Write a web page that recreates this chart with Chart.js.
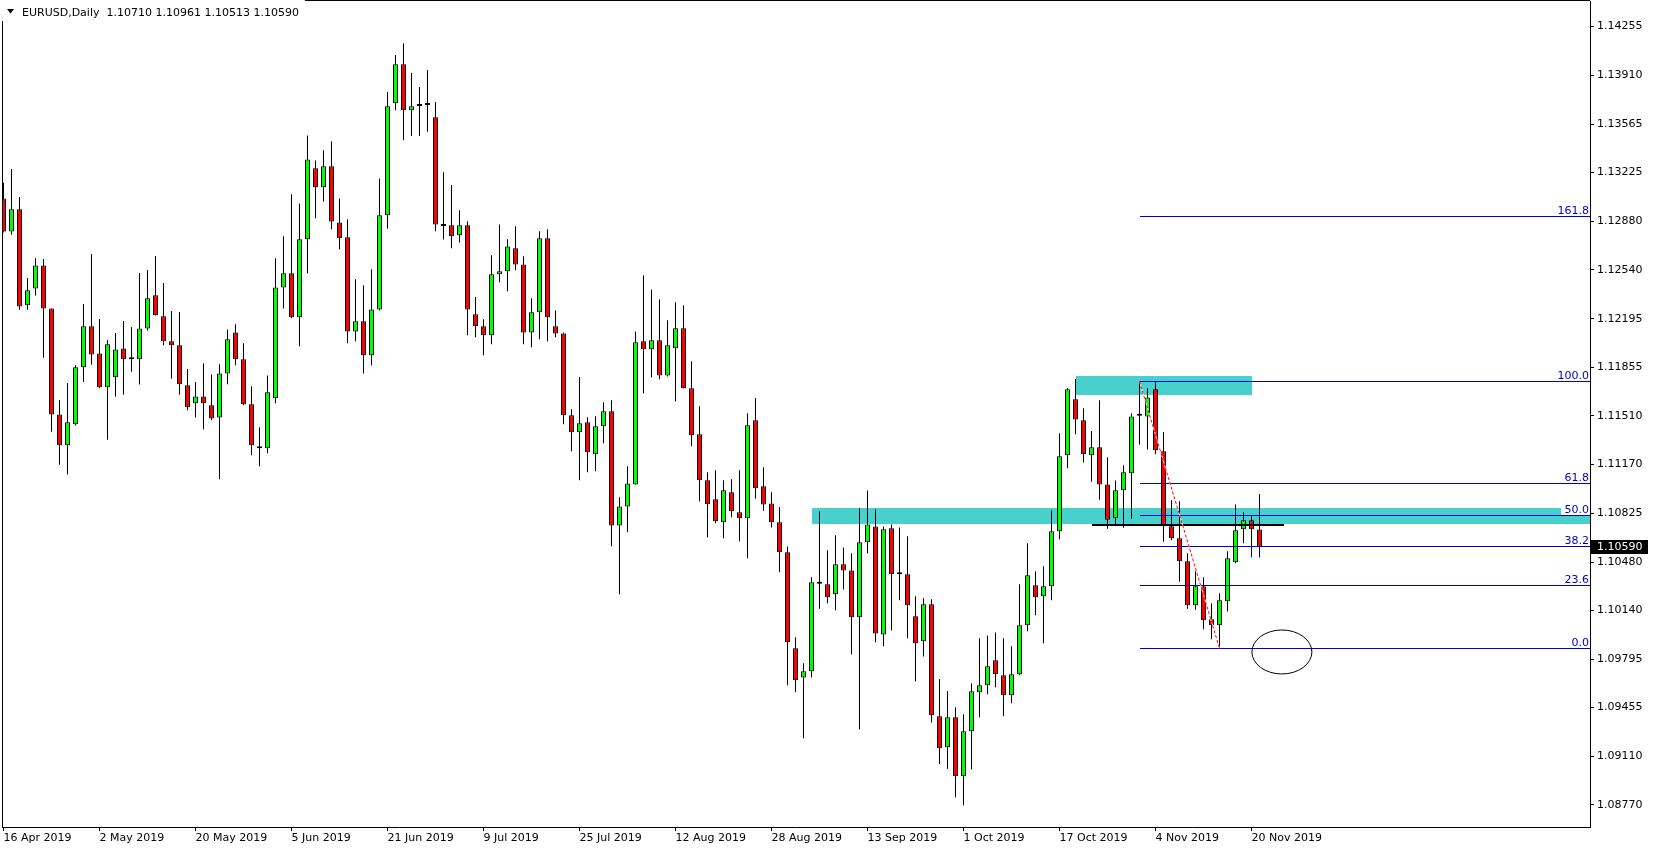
<!DOCTYPE html>
<html>
<head>
<meta charset="utf-8">
<title>EURUSD Daily</title>
<script src="https://cdn.jsdelivr.net/npm/chart.js@4.4.0/dist/chart.umd.min.js"></script>
<style>
html, body { margin: 0; padding: 0; background: #fff; }
#wrap { width: 1654px; height: 850px; }
</style>
</head>
<body>
<div id="wrap"><canvas id="mt4-chart" width="1654" height="850"></canvas></div>
<script>
// EURUSD daily candles, 16 Apr 2019 .. 21 Nov 2019 (one bar per trading day)
const opens = [
    1.13043,1.12809,1.12966,1.12290,1.12409,1.12571,1.12268,1.11521,1.11303,1.11451,
    1.11853,1.12142,1.11951,1.11712,1.11782,1.11986,1.11909,1.11909,1.12127,1.12360,
    1.12212,1.12036,1.12008,1.11726,1.11599,1.11648,1.11585,1.11500,1.11810,1.12099,
    1.11909,1.11592,1.11296,1.11282,1.11634,1.12416,1.12515,1.12205,1.12755,1.13255,
    1.13121,1.13269,1.12874,1.12769,1.12106,1.12177,1.11937,1.12261,1.12924,1.13713,
    1.13988,1.13664,1.13694,1.13701,1.13614,1.12849,1.12853,1.12783,1.12853,1.12226,
    1.12142,1.12078,1.12508,1.12529,1.12691,1.12578,1.12099,1.12240,1.12762,1.12142,
    1.12092,1.11515,1.11395,1.11465,1.11240,1.11437,1.11543,1.10739,1.10873,1.11028,
    1.12036,1.11980,1.12043,1.11796,1.11987,1.12128,1.11705,1.11381,1.11057,1.10923,
    1.10761,1.10972,1.10831,1.10789,1.11479,1.11014,1.10894,1.10761,1.10549,1.09873,
    1.09668,1.09711,1.10328,1.10324,1.10253,1.10465,1.10422,1.10091,1.10620,1.10732,
    1.09971,1.10718,1.10394,1.10394,1.10098,1.09922,1.10183,1.09394,1.09175,1.09387,
    1.08971,1.09288,1.09563,1.09612,1.09788,1.09683,1.09542,1.09690,1.10035,1.10317,
    1.10239,1.10310,1.10697,1.11233,1.11627,1.11479,1.11233,1.11289,1.11028,1.10789,
    1.10986,1.11106,1.11512,1.11507,1.11698,1.11261,1.10733,1.10648,1.10486,1.10176,
    1.10310,1.10077,1.10035,1.10204,1.10479,1.10711,1.10775,1.10710
];
const highs = [
    1.13154,1.13250,1.13053,1.12482,1.12623,1.12616,1.12268,1.11622,1.11742,1.11867,
    1.12299,1.12651,1.12193,1.12045,1.12095,1.12179,1.12137,1.12517,1.12539,1.12637,
    1.12447,1.12250,1.12243,1.11841,1.11749,1.11881,1.11803,1.11874,1.12120,1.12156,
    1.12022,1.11719,1.11430,1.11796,1.12621,1.12776,1.13072,1.13008,1.13487,1.13311,
    1.13382,1.13445,1.13043,1.12896,1.12473,1.12431,1.12543,1.13184,1.13793,1.14053,
    1.14136,1.13927,1.13828,1.13948,1.13722,1.13227,1.13137,1.12959,1.12882,1.12348,
    1.12191,1.12642,1.12860,1.12755,1.12846,1.12635,1.12339,1.12811,1.12825,1.12254,
    1.12099,1.11557,1.11785,1.11501,1.11508,1.11606,1.11620,1.10937,1.11155,1.12106,
    1.12501,1.12402,1.12332,1.12184,1.12311,1.12290,1.11895,1.11578,1.11113,1.11127,
    1.11057,1.11064,1.11127,1.11529,1.11637,1.11148,1.10972,1.10869,1.10591,1.09950,
    1.09767,1.10373,1.10838,1.10563,1.10669,1.10584,1.10542,1.10859,1.10985,1.10852,
    1.10732,1.10746,1.10725,1.10662,1.10239,1.10225,1.10218,1.09657,1.09572,1.09457,
    1.09408,1.09626,1.09943,1.09964,1.09985,1.09943,1.09887,1.10324,1.10613,1.10415,
    1.10451,1.10845,1.11388,1.11705,1.11770,1.11564,1.11404,1.11620,1.11219,1.11056,
    1.11162,1.11529,1.11754,1.11705,1.11752,1.11397,1.10916,1.10909,1.10542,1.10415,
    1.10373,1.10190,1.10260,1.10556,1.10887,1.10831,1.10803,1.10961
];
const lows = [
    1.12802,1.12787,1.12259,1.12259,1.12358,1.11921,1.11399,1.11167,1.11097,1.11442,
    1.11749,1.11871,1.11705,1.11343,1.11646,1.11660,1.11822,1.11731,1.12113,1.12219,
    1.12008,1.11773,1.11660,1.11550,1.11500,1.11416,1.11479,1.11064,1.11733,1.11867,
    1.11585,1.11233,1.11155,1.11247,1.11599,1.12268,1.12198,1.12001,1.12515,1.12903,
    1.13022,1.12825,1.12684,1.12022,1.12036,1.11810,1.11867,1.12254,1.12830,1.13664,
    1.13452,1.13483,1.13483,1.13513,1.12811,1.12754,1.12691,1.12733,1.12078,1.12064,
    1.11937,1.12015,1.12452,1.12388,1.12536,1.12015,1.11994,1.12050,1.12036,1.12064,
    1.11451,1.11261,1.11057,1.11113,1.11120,1.11317,1.10592,1.10253,1.10690,1.11028,
    1.11670,1.11782,1.11768,1.11789,1.11613,1.11705,1.11296,1.10909,1.10655,1.10754,
    1.10648,1.10796,1.10627,1.10507,1.10927,1.10843,1.10725,1.10408,1.09612,1.09563,
    1.09239,1.09668,1.10152,1.10190,1.10141,1.10288,1.09830,1.09302,1.10542,1.09915,
    1.09887,1.09999,1.10211,1.09943,1.09640,1.09816,1.09351,1.09058,1.09023,1.08823,
    1.08767,1.09020,1.09387,1.09549,1.09598,1.09394,1.09485,1.09683,1.09993,1.10105,
    1.09908,1.10211,1.10641,1.11141,1.11381,1.11183,1.11047,1.10920,1.10716,1.10744,
    1.10723,1.10786,1.11308,1.11273,1.11240,1.10624,1.10634,1.10342,1.10152,1.10145,
    1.10007,1.09936,1.09873,1.10133,1.10472,1.10613,1.10514,1.10513
];
const closes = [
    1.12809,1.12966,1.12282,1.12395,1.12571,1.12268,1.11521,1.11303,1.11465,1.11853,
    1.12142,1.11944,1.11712,1.12015,1.11979,1.11909,1.11909,1.12127,1.12339,1.12219,
    1.12036,1.12008,1.11733,1.11571,1.11648,1.11599,1.11493,1.11810,1.12050,1.11909,
    1.11592,1.11303,1.11282,1.11677,1.12416,1.12515,1.12205,1.12755,1.13318,1.13121,
    1.13269,1.12881,1.12762,1.12106,1.12177,1.11937,1.12261,1.12924,1.13692,1.13988,
    1.13664,1.13692,1.13694,1.13701,1.12860,1.12849,1.12776,1.12853,1.12261,1.12142,
    1.12078,1.12508,1.12529,1.12705,1.12578,1.12099,1.12240,1.12762,1.12205,1.12092,
    1.11515,1.11395,1.11458,1.11254,1.11437,1.11543,1.10739,1.10873,1.11035,1.12029,
    1.11980,1.12043,1.11796,1.12008,1.12128,1.11705,1.11374,1.11057,1.10888,1.10768,
    1.10986,1.10838,1.10789,1.11444,1.11000,1.10887,1.10761,1.10549,1.09915,1.09647,
    1.09711,1.10338,1.10328,1.10232,1.10465,1.10422,1.10091,1.10620,1.10746,1.09978,
    1.10711,1.10394,1.10394,1.10176,1.09908,1.10183,1.09401,1.09168,1.09387,1.08971,
    1.09288,1.09570,1.09612,1.09746,1.09690,1.09542,1.09690,1.10035,1.10387,1.10232,
    1.10310,1.10697,1.11226,1.11698,1.11486,1.11240,1.11289,1.11028,1.10779,1.10986,
    1.11113,1.11507,1.11512,1.11641,1.11268,1.10733,1.10648,1.10486,1.10176,1.10310,
    1.10070,1.10035,1.10211,1.10507,1.10704,1.10775,1.10711,1.10590
];

// time scale labels (bar index -> text)
const tickBars = [0, 12, 24, 36, 48, 60, 72, 84, 96, 108, 120, 132, 144, 156];
const tickLabels = ['16 Apr 2019', '2 May 2019', '20 May 2019', '5 Jun 2019', '21 Jun 2019',
    '9 Jul 2019', '25 Jul 2019', '12 Aug 2019', '28 Aug 2019', '13 Sep 2019',
    '1 Oct 2019', '17 Oct 2019', '4 Nov 2019', '20 Nov 2019'];

// price scale labels
const priceTicks = [1.14255, 1.13910, 1.13565, 1.13225, 1.12880, 1.12540, 1.12195, 1.11855,
    1.11510, 1.11170, 1.10825, 1.10480, 1.10140, 1.09795, 1.09455, 1.09110, 1.08770];

// fibonacci: from the swing high bar to the swing low bar
const fibLevels = [0, 23.6, 38.2, 50, 61.8, 100, 161.8];
const fibHighBar = 142;
const fibLowBar = 152;

// zones (null end = runs to the right edge)
const zoneFrom = [101, 134];
const zoneTo = [null, 156];
const zoneTop = [1.10862, 1.11792];
const zoneBottom = [1.10751, 1.11660];

// black horizontal line
const levelBars = [136, 160];
const levelPrice = 1.10744;

// ellipse
const ellipseBar = 159.8;
const ellipsePrice = 1.09847;
const ellipseBars = 3.75;
const ellipsePips = 0.00155;

const symbolTitle = 'EURUSD,Daily';

// 1. Build the datasets
const idx = opens.map(function(_, i) { return i; });
const bodyData = idx.map(function(i) { return { x: i, y: [opens[i], closes[i]] }; });
const wickData = idx.map(function(i) { return { x: i, y: [lows[i], highs[i]] }; });
const bodyColors = idx.map(function(i) { return closes[i] >= opens[i] ? '#00ff00' : '#ff0000'; });

// 2. Objects drawn on the chart (zones, fibo, lines, labels)
const mtObjects = {
    id: 'mtObjects',
    beforeDatasetsDraw(chart) {
        const ctx = chart.ctx, a = chart.chartArea, x = chart.scales.x, y = chart.scales.y;
        ctx.save();
        ctx.beginPath();
        ctx.rect(a.left, a.top, a.right - a.left, a.bottom - a.top);
        ctx.clip();
        ctx.fillStyle = '#48d1cc';
        zoneFrom.forEach(function(f, i) {
            const x1 = Math.round(x.getPixelForValue(f));
            const x2 = zoneTo[i] === null ? a.right : Math.round(x.getPixelForValue(zoneTo[i]));
            const y1 = Math.round(y.getPixelForValue(zoneTop[i]));
            const y2 = Math.round(y.getPixelForValue(zoneBottom[i]));
            ctx.fillRect(x1, y1, x2 - x1, y2 - y1);
        });
        ctx.restore();
    },
    afterDatasetsDraw(chart) {
        const ctx = chart.ctx, a = chart.chartArea, x = chart.scales.x, y = chart.scales.y;
        const hi = highs[fibHighBar], lo = lows[fibLowBar];
        ctx.save();
        ctx.beginPath();
        ctx.rect(a.left, a.top, a.right - a.left, a.bottom - a.top);
        ctx.clip();

        // black level line
        const ly = Math.round(y.getPixelForValue(levelPrice));
        ctx.fillStyle = '#000';
        const lx1 = Math.round(x.getPixelForValue(levelBars[0]));
        const lx2 = Math.round(x.getPixelForValue(levelBars[1]));
        ctx.fillRect(lx1, ly - 1, lx2 - lx1, 2);

        // fibo levels
        const fx = Math.round(x.getPixelForValue(fibHighBar));
        ctx.font = '11px "DejaVu Sans"';
        ctx.textAlign = 'right';
        ctx.textBaseline = 'alphabetic';
        fibLevels.forEach(function(lv) {
            const py = Math.round(y.getPixelForValue(lo + (hi - lo) * lv / 100)) + 0.5;
            const txt = lv.toFixed(1);
            const w = ctx.measureText(txt).width;
            ctx.strokeStyle = '#0000cd';
            ctx.lineWidth = 1;
            ctx.beginPath();
            ctx.moveTo(fx, py);
            ctx.lineTo(a.right, py);
            ctx.stroke();
            ctx.fillStyle = '#fff';
            ctx.fillRect(Math.floor(a.right - w - 4), py - 11.5, Math.ceil(w + 4), 11);
            ctx.fillStyle = '#0000cd';
            ctx.fillText(txt, a.right - 1, py - 2.5);
        });

        // dashed trend line high -> low (MT4 fills the dash gaps with background)
        const tx1 = x.getPixelForValue(fibHighBar), ty1 = y.getPixelForValue(hi);
        const tx2 = x.getPixelForValue(fibLowBar), ty2 = y.getPixelForValue(lo);
        ctx.lineWidth = 1;
        ctx.strokeStyle = '#fff';
        ctx.beginPath(); ctx.moveTo(tx1, ty1); ctx.lineTo(tx2, ty2); ctx.stroke();
        ctx.strokeStyle = '#ff0000';
        ctx.setLineDash([3, 2]);
        ctx.beginPath(); ctx.moveTo(tx1, ty1); ctx.lineTo(tx2, ty2); ctx.stroke();
        ctx.setLineDash([]);

        // ellipse
        const ex = x.getPixelForValue(ellipseBar), ey = y.getPixelForValue(ellipsePrice);
        const rx = Math.abs(x.getPixelForValue(ellipseBar + ellipseBars) - ex);
        const ry = Math.abs(y.getPixelForValue(ellipsePrice + ellipsePips) - ey);
        ctx.strokeStyle = '#000';
        ctx.beginPath();
        ctx.ellipse(ex, ey, rx, ry, 0, 0, Math.PI * 2);
        ctx.stroke();
        ctx.restore();
    },
    afterDraw(chart) {
        const ctx = chart.ctx, a = chart.chartArea, y = chart.scales.y;
        const last = closes.length - 1;
        ctx.save();
        // left + top frame
        ctx.fillStyle = '#000';
        ctx.fillRect(a.left, 0, 1, a.bottom);
        ctx.fillRect(a.left, 0, a.right - a.left, 1);

        // title
        ctx.font = '11px "DejaVu Sans"';
        ctx.textAlign = 'left';
        ctx.textBaseline = 'alphabetic';
        const title = symbolTitle + '  ' + [opens[last], highs[last], lows[last], closes[last]]
            .map(function(v) { return v.toFixed(5); }).join(' ');
        const tw = ctx.measureText(title).width;
        ctx.fillStyle = '#fff';
        ctx.fillRect(0, 0, 22 + tw + 6, 21);
        ctx.fillStyle = '#000';
        ctx.beginPath();
        ctx.moveTo(7, 9); ctx.lineTo(14, 9); ctx.lineTo(10.5, 13.5); ctx.closePath();
        ctx.fill();
        ctx.fillText(title, 22, 16);

        // current price tag
        const cy = Math.round(y.getPixelForValue(closes[last]));
        ctx.fillStyle = '#000';
        ctx.fillRect(a.right + 1, cy - 7, 57, 14);
        ctx.fillStyle = '#fff';
        ctx.textBaseline = 'middle';
        ctx.fillText(closes[last].toFixed(5), a.right + 7, cy + 0.5);
        ctx.restore();
    }
};

// 3. The chart
Chart.defaults.font.family = '"DejaVu Sans"';
Chart.defaults.font.size = 11;
Chart.defaults.color = '#000';

new Chart(document.getElementById('mt4-chart'), {
    type: 'bar',
    data: {
        datasets: [
            {
                label: 'body',
                data: bodyData,
                backgroundColor: bodyColors,
                borderColor: '#000',
                borderWidth: 1,
                borderSkipped: false,
                barThickness: 5,
                minBarLength: 2,
                inflateAmount: 0,
                grouped: false,
                order: 0
            },
            {
                label: 'wick',
                data: wickData,
                backgroundColor: '#000',
                borderWidth: 0,
                barThickness: 1,
                inflateAmount: 0,
                grouped: false,
                order: 1
            }
        ]
    },
    options: {
        responsive: false,
        animation: false,
        events: [],
        layout: { padding: { left: 2, top: 1, right: 0, bottom: 0 } },
        plugins: {
            legend: { display: false },
            tooltip: { enabled: false }
        },
        scales: {
            x: {
                type: 'linear',
                min: -0.1875,
                max: 198.3125,
                offset: false,
                grid: { drawOnChartArea: false, drawTicks: true, tickLength: 4, color: '#000', offset: false },
                border: { display: true, color: '#000' },
                ticks: {
                    autoSkip: false,
                    maxRotation: 0,
                    minRotation: 0,
                    align: 'start',
                    padding: 1,
                    callback: function(v) {
                        const k = tickBars.indexOf(v);
                        return k >= 0 ? tickLabels[k] : '';
                    }
                },
                afterBuildTicks: function(s) { s.ticks = tickBars.map(function(v) { return { value: v }; }); },
                afterFit: function(s) {
                    s.height = 23;
                    s.paddingLeft = 0;
                    s.paddingRight = 0;
                }
            },
            y: {
                position: 'right',
                min: 1.086138,
                max: 1.14434,
                beginAtZero: false,
                grid: { drawOnChartArea: false, drawTicks: true, tickLength: 4, color: '#000' },
                border: { display: true, color: '#000' },
                ticks: {
                    autoSkip: false,
                    padding: 3,
                    callback: function(v) { return v.toFixed(5); }
                },
                afterBuildTicks: function(s) { s.ticks = priceTicks.map(function(v) { return { value: v }; }); },
                afterFit: function(s) {
                    s.width = 64;
                    s.paddingTop = 0;
                    s.paddingBottom = 0;
                }
            }
        }
    },
    plugins: [mtObjects]
});
</script>
</body>
</html>
